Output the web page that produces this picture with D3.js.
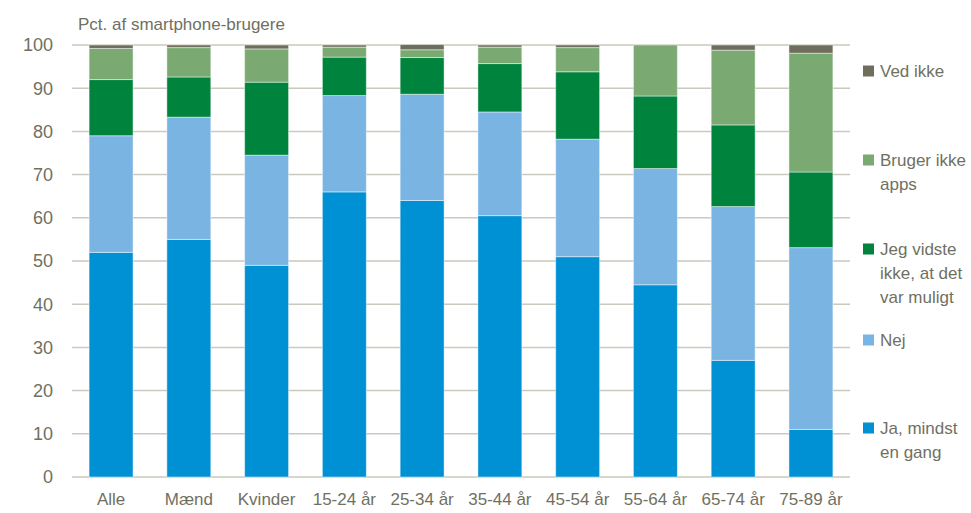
<!DOCTYPE html>
<html>
<head>
<meta charset="utf-8">
<script src="https://cdn.jsdelivr.net/npm/d3@7"></script>
<style>
  body { margin: 0; background: #fff; }
  svg text { font-family: "Liberation Sans", Arial, sans-serif; fill: #707062; }
</style>
</head>
<body>
<svg id="chart"></svg>
<script>
const categories = ['Alle', 'Mænd', 'Kvinder', '15-24 år', '25-34 år', '35-44 år', '45-54 år', '55-64 år', '65-74 år', '75-89 år']
const seriesNames = ['Ja, mindst en gang', 'Nej', 'Jeg vidste ikke, at det var muligt', 'Bruger ikke apps', 'Ved ikke']
const ja = [52, 55, 49, 66, 64, 60.5, 51, 44.5, 27, 11]
const nej = [27, 28.3, 25.5, 22.3, 24.6, 24, 27.2, 26.9, 35.6, 42.1]
const vidste = [13, 9.3, 16.9, 8.9, 8.5, 11.2, 15.6, 16.8, 18.9, 17.5]
const brugerIkke = [7.2, 6.8, 7.7, 2.3, 1.8, 3.8, 5.6, 11.8, 17.3, 27.5]
const vedIkke = [0.8, 0.6, 0.9, 0.5, 1.2, 0.5, 0.6, 0, 1.2, 1.9]
const yTicks = [0, 10, 20, 30, 40, 50, 60, 70, 80, 90, 100]
const legendLines = [
  ['Ved ikke'],
  ['Bruger ikke', 'apps'],
  ['Jeg vidste', 'ikke, at det', 'var muligt'],
  ['Nej'],
  ['Ja, mindst', 'en gang']
]
const colors = ['#0090d4', '#79b4e3', '#00843d', '#7aaa72', '#6f6e5c']

const width = 971
const height = 513
const margin = {top: 45, right: 121, bottom: 36, left: 72}

const svg = d3.select('#chart')
  .attr('width', width)
  .attr('height', height)

const rows = categories.map((c, i) => ({
  cat: c, s0: ja[i], s1: nej[i], s2: vidste[i], s3: brugerIkke[i], s4: vedIkke[i]
}))
const keys = ['s0', 's1', 's2', 's3', 's4']
const stacked = d3.stack().keys(keys)(rows)

const x = d3.scaleBand()
  .domain(categories)
  .range([margin.left, width - margin.right])
  .paddingInner(0.435)
  .paddingOuter(0.22)

const y = d3.scaleLinear()
  .domain([0, 100])
  .range([height - margin.bottom, margin.top])

// grid
svg.append('g')
  .selectAll('line')
  .data(yTicks)
  .join('line')
  .attr('x1', margin.left)
  .attr('x2', width - margin.right)
  .attr('y1', d => y(d))
  .attr('y2', d => y(d))
  .style('stroke', '#c9c9bd')
  .style('stroke-width', 1.5)

// y labels
svg.append('g')
  .selectAll('text')
  .data(yTicks)
  .join('text')
  .attr('x', 53)
  .attr('y', d => y(d))
  .attr('dy', '0.35em')
  .attr('text-anchor', 'end')
  .style('font-size', '18px')
  .text(d => d)

// bars
svg.append('g')
  .selectAll('g')
  .data(stacked)
  .join('g')
  .style('fill', (d, i) => colors[i])
  .selectAll('rect')
  .data(d => d)
  .join('rect')
  .attr('x', d => x(d.data.cat))
  .attr('width', x.bandwidth())
  .attr('y', d => y(d[1]))
  .attr('height', d => y(d[0]) - y(d[1]))
  .style('stroke', 'rgba(255,255,255,0.45)')
  .style('stroke-width', 1)

// x labels
svg.append('g')
  .selectAll('text')
  .data(categories)
  .join('text')
  .attr('x', d => x(d) + x.bandwidth() / 2)
  .attr('y', 505)
  .attr('text-anchor', 'middle')
  .style('font-size', '17px')
  .text(d => d)

// title
svg.append('text')
  .attr('x', 78)
  .attr('y', 30)
  .style('font-size', '17px')
  .text('Pct. af smartphone-brugere')

// legend, top = last series
const legendY = [71, 160, 249, 340, 428]
const legend = svg.append('g')
legendLines.forEach((lines, i) => {
  const si = seriesNames.length - 1 - i
  const g = legend.append('g').attr('transform', `translate(863, ${legendY[i]})`)
  g.append('rect')
    .attr('x', 0)
    .attr('y', -5.5)
    .attr('width', 11)
    .attr('height', 11)
    .style('fill', colors[si])
  g.selectAll('text')
    .data(lines)
    .join('text')
    .attr('x', 17)
    .attr('y', (d, j) => j * 24)
    .attr('dy', '0.35em')
    .style('font-size', '17px')
    .text(d => d)
})
</script>
</body>
</html>
